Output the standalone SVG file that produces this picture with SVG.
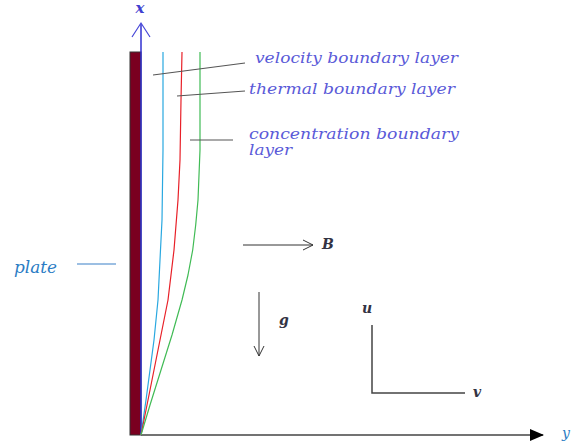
<svg xmlns="http://www.w3.org/2000/svg" width="574" height="445" viewBox="0 0 574 445">
<defs>
<style>
.lbl{font-family:"DejaVu Serif",serif;font-style:italic;fill:#5a5ad8;font-size:14px}
.sym{font-family:"DejaVu Serif",serif;font-style:italic;font-weight:bold;fill:#333344;font-size:14px}
.lead{stroke:#555;stroke-width:1.2;fill:none}
.curve{fill:none;stroke-width:1.2;stroke-linejoin:round}
</style>
<marker id="open" viewBox="0 0 12 12" refX="11" refY="6" markerWidth="12" markerHeight="12" markerUnits="userSpaceOnUse" orient="auto">
<path d="M1,1 L11,6 L1,11" fill="none" stroke="#333" stroke-width="1"/>
</marker>
<marker id="filled" viewBox="0 0 14 12" refX="13" refY="6" markerWidth="14" markerHeight="12" markerUnits="userSpaceOnUse" orient="auto">
<path d="M0,0 L14,6 L0,12 Z" fill="#000"/>
</marker>
</defs>
<rect width="574" height="445" fill="#fff"/>
<g id="plate">
<rect x="130" y="52" width="11" height="383" fill="#7a0020" stroke="#333" stroke-width="1"/>
</g>
<g id="connectors">
<line x1="141" y1="435" x2="141" y2="24" stroke="#3030d0" stroke-width="1.5"/>
<path d="M132,37 L141,23 L150,37" fill="none" stroke="#4848d8" stroke-width="1.2"/>
<line x1="141" y1="435" x2="543" y2="435" stroke="#444" stroke-width="1.5" marker-end="url(#filled)"/>
<path class="curve" stroke="#29a8e0" d="M163,52 L163,150 L162,220 L160,260 L158,300 L154,340 L150,370 L146,400 L141,435"/>
<path class="curve" stroke="#e82028" d="M182,52 L181,100 L180,160 L178,200 L174,250 L168,300 L161,335 L154,370 L147,405 L141,435"/>
<path class="curve" stroke="#40bb55" d="M200,52 L200,150 L199,175 L198,200 L195.7,225 L192.7,250 L188,275 L182,300 L172,335 L161,370 L150,405 L141,435"/>
<line class="lead" x1="153" y1="75" x2="245" y2="63"/>
<line class="lead" x1="177" y1="96" x2="245" y2="91"/>
<line class="lead" x1="190" y1="140" x2="233" y2="140"/>
<line x1="77" y1="264" x2="116" y2="264" stroke="#3a80c8" stroke-width="1.2"/>
<line x1="243" y1="245" x2="313" y2="245" stroke="#333" stroke-width="1" marker-end="url(#open)"/>
<line x1="259" y1="292" x2="259" y2="356" stroke="#333" stroke-width="1" marker-end="url(#open)"/>
<polyline points="372,325 372,393 465,393" fill="none" stroke="#444" stroke-width="1.5"/>
</g>
<g id="labels">
<text x="140" y="13" text-anchor="middle" font-family="DejaVu Serif,serif" font-style="italic" font-weight="bold" font-size="15" fill="#4040d0">x</text>
<text class="lbl" x="255" y="63" textLength="203" lengthAdjust="spacingAndGlyphs">velocity boundary layer</text>
<text class="lbl" x="249" y="94" textLength="206" lengthAdjust="spacingAndGlyphs">thermal boundary layer</text>
<text class="lbl" x="249" y="139" textLength="210" lengthAdjust="spacingAndGlyphs">concentration boundary</text>
<text class="lbl" x="249" y="155" textLength="43" lengthAdjust="spacingAndGlyphs">layer</text>
<text x="14" y="273" font-family="DejaVu Serif,serif" font-style="italic" font-size="16" fill="#2b7cc4" textLength="43" lengthAdjust="spacingAndGlyphs">plate</text>
<text class="sym" x="322" y="249">B</text>
<text class="sym" x="279" y="325">g</text>
<text class="sym" x="362" y="313">u</text>
<text class="sym" x="473" y="397">v</text>
<text x="562" y="438" font-family="DejaVu Serif,serif" font-style="italic" font-size="14" fill="#2b7cc4">y</text>
</g>
</svg>
